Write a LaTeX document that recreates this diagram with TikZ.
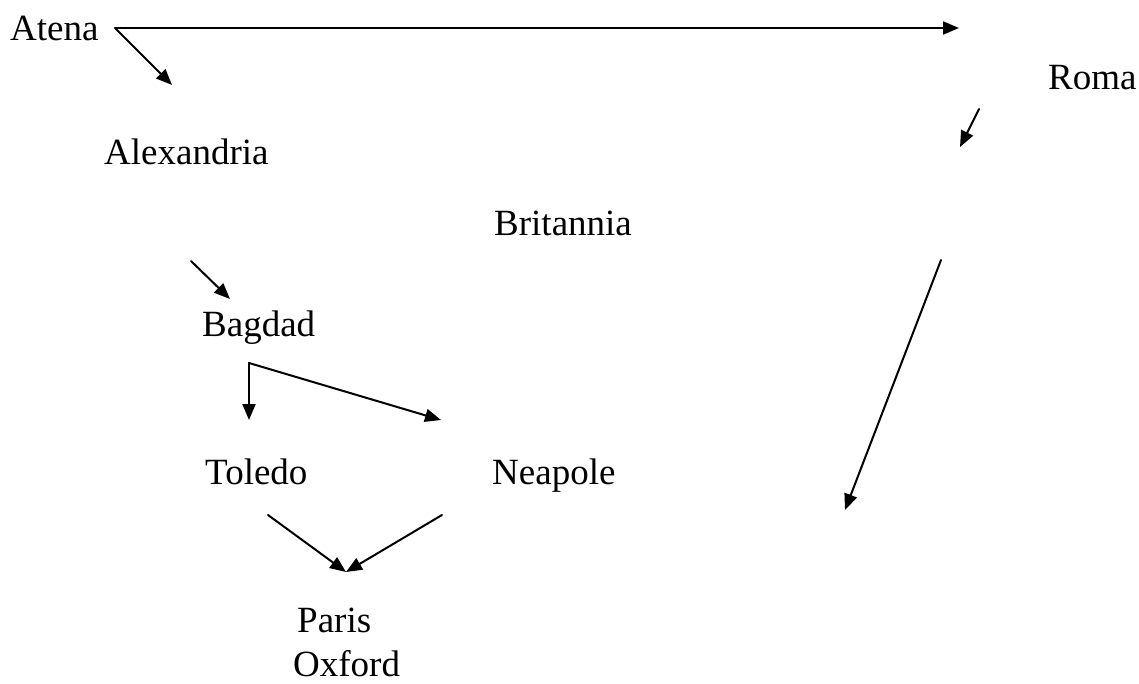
\documentclass[tikz,border=0pt]{standalone}
\usepackage{fontspec}
\setmainfont{Liberation Serif}
\usetikzlibrary{arrows.meta,positioning}

\begin{document}
\begin{tikzpicture}[x=1pt,y=-1pt,>={Triangle[length=16pt,width=13pt]},line cap=round,line join=round]
\useasboundingbox[fill=white] (0,0) rectangle (1139,684);
\tikzset{city/.style={anchor=base west,inner sep=0pt,font=\fontsize{37}{44}\selectfont},link/.style={draw=black,line width=2pt,->}}
\node[city] (atena) at (10,41) {Atena};
\node[city] (roma) at (1048,90) {Roma};
\node[city] (alexandria) at (104,165) {Alexandria};
\node[city] (britannia) at (494,236) {Britannia};
\node[city] (bagdad) at (202,336) {Bagdad};
\node[city] (toledo) at (205,484) {Toledo};
\node[city] (neapole) at (492,484) {Neapole};
\node[city] (paris) at (297,632) {Paris};
\node[city] (oxford) at (293,676) {Oxford};
\coordinate (atenaOut) at (115,28); \coordinate (atenaEnd) at (959,28); \coordinate (atenaDown) at (172,85);
\coordinate (romaOut) at (979,109); \coordinate (romaEnd) at (960,147);
\coordinate (alexOut) at (191,261); \coordinate (alexEnd) at (230,299);
\coordinate (bagdadOut) at (249,363); \coordinate (toledoIn) at (249,420); \coordinate (neapoleIn) at (441,420);
\coordinate (farOut) at (941,260); \coordinate (farEnd) at (845,510);
\coordinate (toledoOut) at (268,515); \coordinate (neapoleOut) at (442,515);
\coordinate (parisIn) at (346,572);
\draw[link] (atenaOut) -- (atenaEnd);
\draw[link] (atenaOut) -- (atenaDown);
\draw[link] (romaOut) -- (romaEnd);
\draw[link] (alexOut) -- (alexEnd);
\draw[link] (bagdadOut) -- (toledoIn);
\draw[link] (bagdadOut) -- (neapoleIn);
\draw[link] (farOut) -- (farEnd);
\draw[link] (toledoOut) -- (parisIn);
\draw[link] (neapoleOut) -- (parisIn);
\end{tikzpicture}
\end{document}
